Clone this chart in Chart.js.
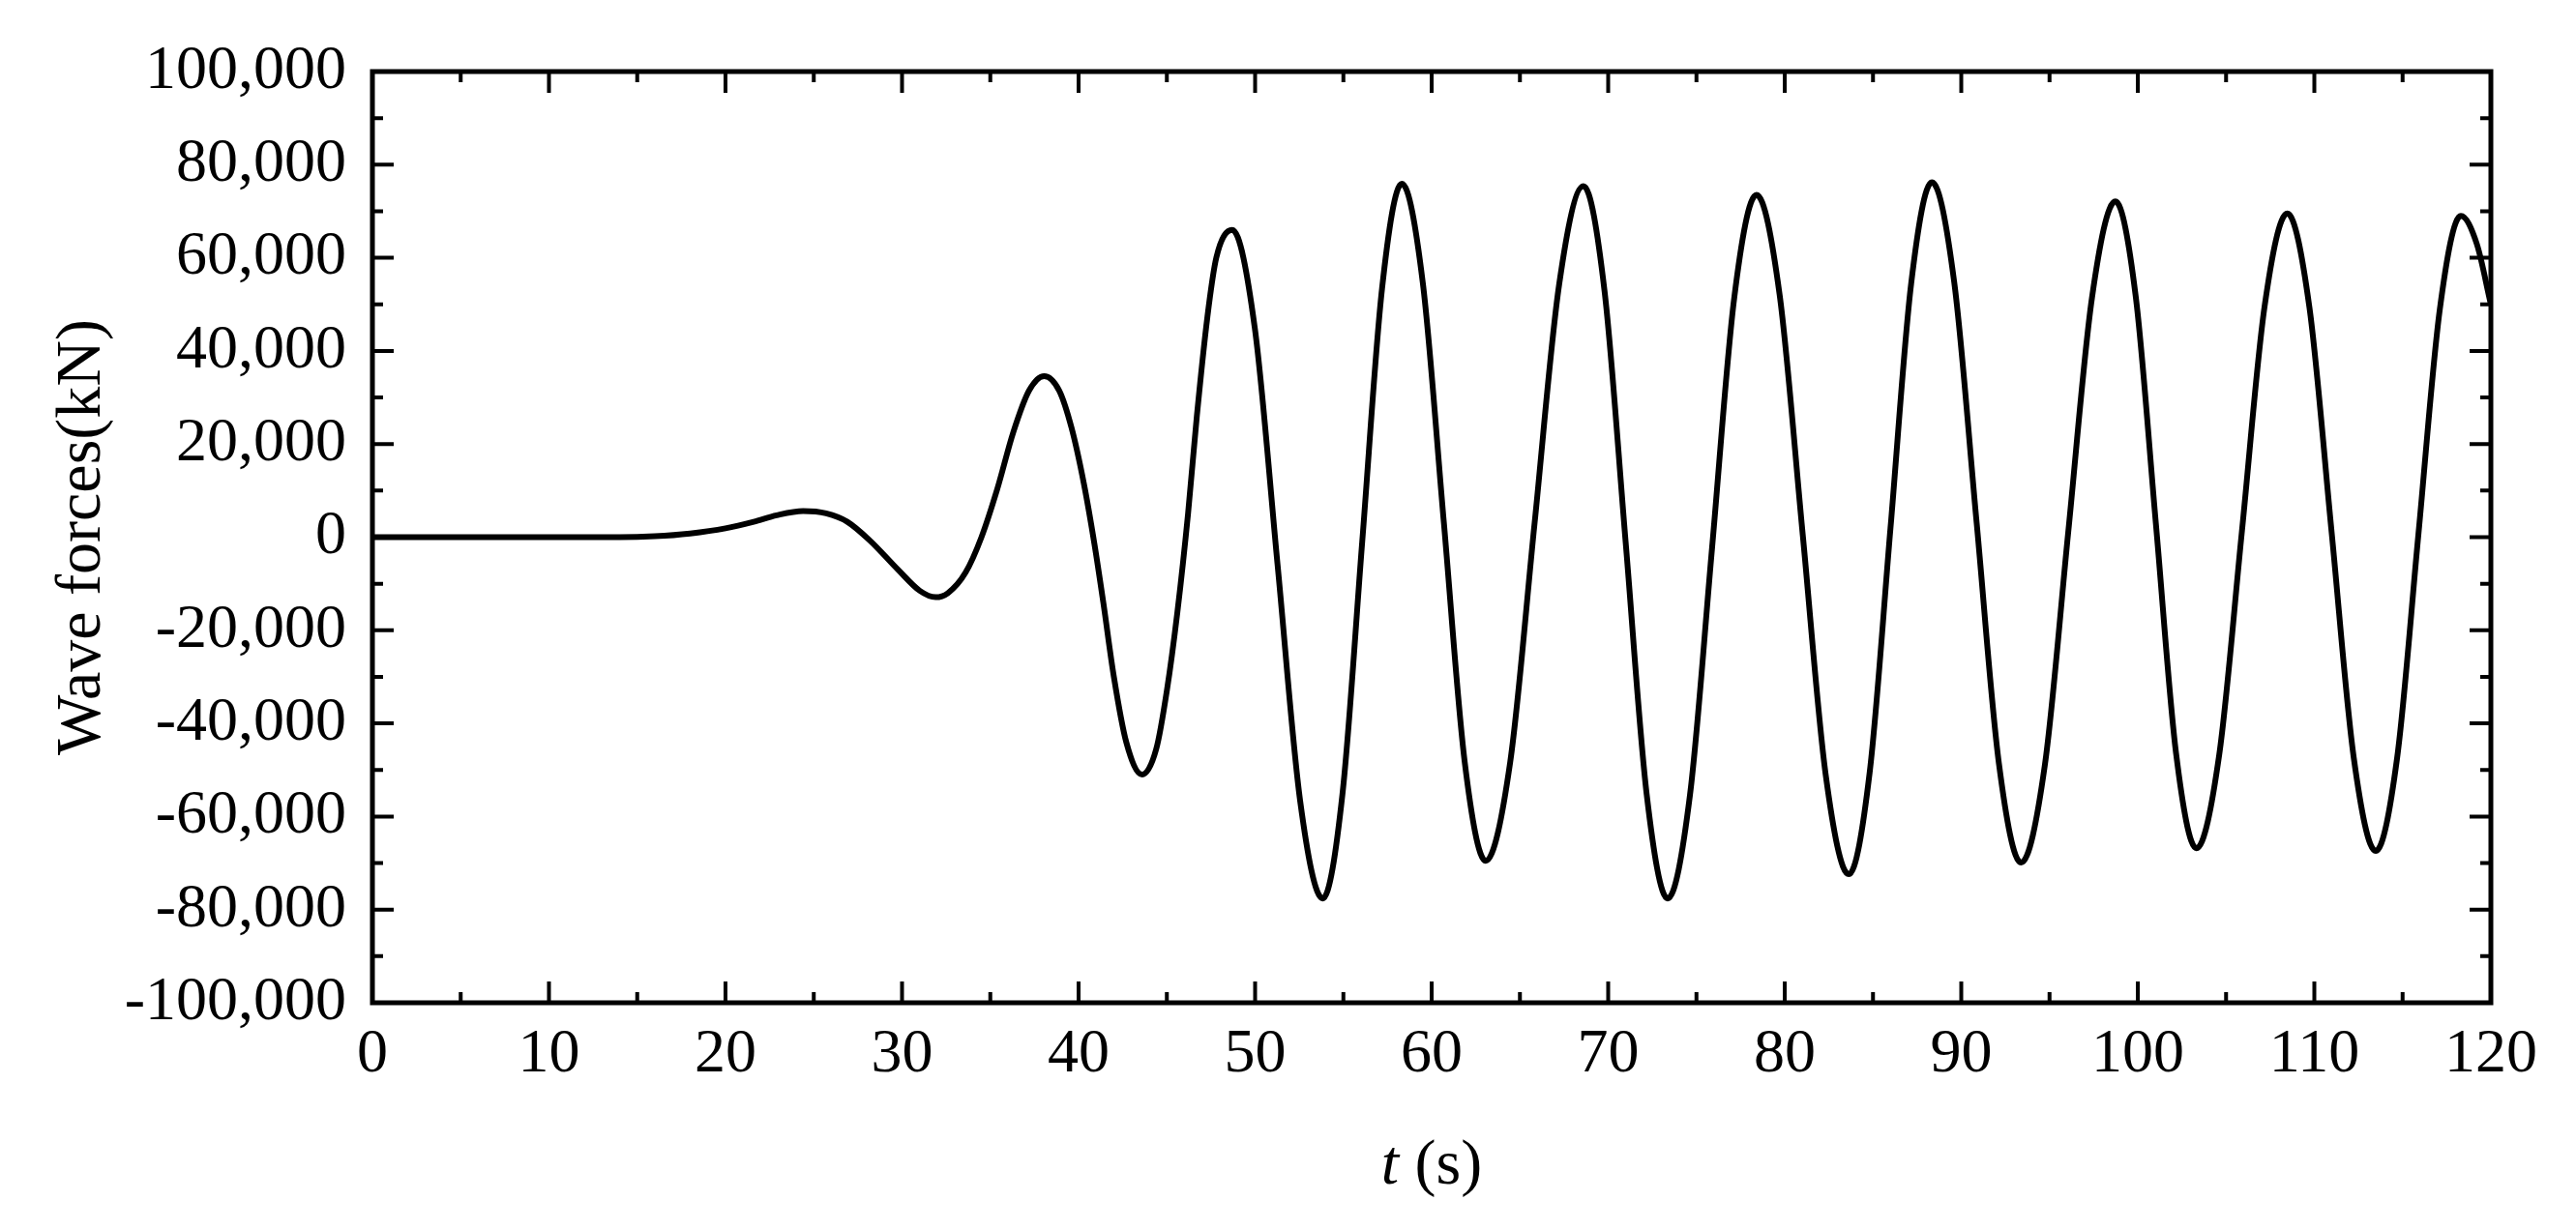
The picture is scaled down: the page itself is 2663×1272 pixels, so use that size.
<!DOCTYPE html>
<html>
<head>
<meta charset="utf-8">
<script src="https://cdn.jsdelivr.net/npm/chart.js@4/dist/chart.umd.min.js"></script>
<style>
  html, body { margin: 0; padding: 0; background: #fff; }
</style>
</head>
<body>
<canvas id="chart-wave" width="2663" height="1272"></canvas>
<script>
// time (s) and wave force (kN)
const t_values = [0, 5, 10, 14, 16, 18, 20, 21.6, 22.9, 24.4, 25.7, 26.9, 28.2, 29.8, 31.0, 31.9, 32.6, 33.6, 34.5, 35.4, 36.3, 37.2, 38.05, 38.9, 39.6, 40.3, 40.9, 41.4, 42.0, 42.7, 43.6, 44.4, 45.0, 45.6, 46.2, 46.7, 47.3, 47.8, 48.7,
    49.98, 51.27, 52.55, 53.83,
    54.95, 56.07, 57.19, 58.31,
    59.50, 60.69, 61.87, 63.06,
    64.45, 65.83, 67.22, 68.6,
    69.79, 70.99, 72.18, 73.37,
    74.63, 75.89, 77.14, 78.4,
    79.71, 81.02, 82.32, 83.63,
    84.81, 85.99, 87.16, 88.34,
    89.60, 90.87, 92.13, 93.39,
    94.73, 96.06, 97.40, 98.73,
    99.88, 101.03, 102.17, 103.32,
    104.61, 105.90, 107.18, 108.47,
    109.72, 110.98, 112.23, 113.48,
    114.69, 115.90, 117.11, 118.3,
    119.2, 120];

const force_values = [0, 0, 0, 0, 200, 800, 1900, 3300, 4700, 5600, 5100, 3300, -800, -7100, -11500, -12900, -12000, -7600, 0, 10400, 22500, 31500, 34600, 31500, 23500, 11500, -1500, -14000, -30000, -44000, -51000, -45500, -33000, -16000, 5000, 26000, 47400, 60000, 66000,
    45000, -5800, -56600, -77600,
    -55100, -850, 53400, 75900,
    54600, 3200, -48200, -69500,
    -48300, 2950, 54200, 75400,
    53000, -1100, -55200, -77600,
    -55500, -2050, 51400, 73500,
    52100, 550, -51000, -72400,
    -50600, 1900, 54400, 76200,
    54800, 3150, -48500, -69900,
    -49100, 1100, 51300, 72100,
    51800, 2650, -46500, -66800,
    -46800, 1350, 49500, 69500,
    49400, 1050, -47300, -67400,
    -47400, 800, 49000, 69000,
    63000, 50000];

const x_range = [0, 120];
const x_step = 10;
const y_range = [-100000, 100000];
const y_step = 20000;

const y_title = 'Wave forces(kN)';
const x_title_var = 't';
const x_title_unit = ' (s)';

const font_family = "'Liberation Serif', 'Times New Roman', serif";

let points = [];
for (let i = 0; i < t_values.length; i++) {
    points.push({x: t_values[i], y: force_values[i]});
}

// frame box + inward ticks on all four sides, major and minor
const frame_ticks = {
    id: 'frame_ticks',
    afterDatasetsDraw(chart) {
        const ctx = chart.ctx;
        const area = chart.chartArea;
        const sx = chart.scales.x;
        const sy = chart.scales.y;
        const major = 22, minor = 11;

        ctx.save();
        ctx.strokeStyle = '#000';
        ctx.lineWidth = 4;
        ctx.lineCap = 'butt';

        let xt = sx.ticks.map(t => t.value);
        let yt = sy.ticks.map(t => t.value);

        function xtick(v, len) {
            let p = sx.getPixelForValue(v);
            ctx.beginPath();
            ctx.moveTo(p, area.bottom); ctx.lineTo(p, area.bottom - len);
            ctx.moveTo(p, area.top); ctx.lineTo(p, area.top + len);
            ctx.stroke();
        }
        function ytick(v, len) {
            let p = sy.getPixelForValue(v);
            ctx.beginPath();
            ctx.moveTo(area.left, p); ctx.lineTo(area.left + len, p);
            ctx.moveTo(area.right, p); ctx.lineTo(area.right - len, p);
            ctx.stroke();
        }

        for (let i = 0; i < xt.length; i++) {
            xtick(xt[i], major);
            if (i < xt.length - 1) xtick((xt[i] + xt[i + 1]) / 2, minor);
        }
        for (let i = 0; i < yt.length; i++) {
            ytick(yt[i], major);
            if (i < yt.length - 1) ytick((yt[i] + yt[i + 1]) / 2, minor);
        }

        ctx.lineWidth = 5;
        ctx.lineJoin = 'miter';
        ctx.strokeRect(area.left, area.top, area.right - area.left, area.bottom - area.top);
        ctx.restore();
    },
    afterDraw(chart) {
        // x title with italic variable
        const ctx = chart.ctx;
        const area = chart.chartArea;
        const sx = chart.scales.x;
        ctx.save();
        ctx.fillStyle = '#000';
        ctx.textBaseline = 'alphabetic';
        ctx.textAlign = 'left';
        ctx.font = 'italic 66px ' + font_family;
        let w1 = ctx.measureText(x_title_var).width;
        ctx.font = '66px ' + font_family;
        let w2 = ctx.measureText(x_title_unit).width;
        let cx = (area.left + area.right) / 2;
        let x0 = cx - (w1 + w2) / 2;
        let base = sx.bottom - 48;
        ctx.font = 'italic 66px ' + font_family;
        ctx.fillText(x_title_var, x0, base);
        ctx.font = '66px ' + font_family;
        ctx.fillText(x_title_unit, x0 + w1, base);
        ctx.restore();
    }
};

Chart.defaults.font.family = font_family;
Chart.defaults.color = '#000';

const chart_wave = new Chart(document.getElementById('chart-wave'), {
    type: 'line',
    data: {
        datasets: [{
            label: 'Wave forces',
            data: points,
            borderColor: '#000',
            borderWidth: 6,
            pointRadius: 0,
            fill: false,
            cubicInterpolationMode: 'monotone',
        }],
    },
    options: {
        responsive: false,
        animation: false,
        layout: { padding: { top: 74, right: 88, left: 0, bottom: 0 } },
        plugins: { legend: { display: false }, tooltip: { enabled: false } },
        scales: {
            x: {
                type: 'linear',
                min: x_range[0],
                max: x_range[1],
                afterFit(scale) { scale.height = 235; },
                ticks: { stepSize: x_step, font: { size: 64 }, padding: 16, maxRotation: 0 },
                grid: { display: false, drawTicks: false },
                border: { display: false },
            },
            y: {
                min: y_range[0],
                max: y_range[1],
                afterFit(scale) { scale.width = 385; },
                ticks: {
                    stepSize: y_step,
                    font: { size: 64 },
                    padding: 27,
                    callback: v => v.toLocaleString('en-US'),
                },
                grid: { display: false, drawTicks: false },
                border: { display: false },
                title: { display: true, text: y_title, font: { size: 66 }, padding: { top: 46, bottom: 0 } },
            },
        },
    },
    plugins: [frame_ticks],
});
</script>
</body>
</html>
